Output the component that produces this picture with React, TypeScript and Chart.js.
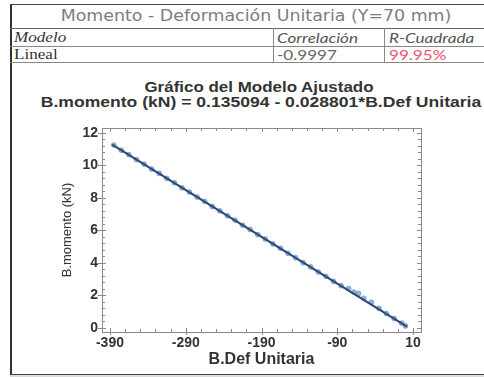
import React, { useEffect, useRef } from "react";
import { Chart, registerables } from "chart.js";

Chart.register(...registerables);

const tableTitle = "Momento - Deformación Unitaria (Y=70 mm)";
const headerCells = ["Modelo", "Correlación", "R-Cuadrada"];
const rowCells = ["Lineal", "-0.9997", "99.95%"];

const chartTitleLines = ["Gráfico del Modelo Ajustado", "B.momento (kN) = 0.135094 - 0.028801*B.Def Unitaria"];
const xAxisTitle = "B.Def Unitaria";
const yAxisTitle = "B.momento (kN)";

const xTickLabels = [-390, -290, -190, -90, 10];
const yTickLabels = [0, 2, 4, 6, 8, 10, 12];

const obsX = [-385, -375, -365, -355, -345, -335, -325, -315, -305, -295, -285, -275, -265, -255, -245, -235, -225, -215, -205, -195, -185, -175, -165, -155, -145, -135, -125, -115, -105, -95, -85, -75, -68, -62, -55, -45, -35, -25, -15, -5, 0];
const obsY = [11.25, 10.93, 10.66, 10.35, 10.08, 9.77, 9.51, 9.2, 8.93, 8.62, 8.35, 8.05, 7.78, 7.47, 7.2, 6.9, 6.63, 6.32, 6.05, 5.74, 5.47, 5.17, 4.9, 4.59, 4.32, 4.01, 3.75, 3.44, 3.17, 2.86, 2.6, 2.42, 2.2, 2.12, 1.82, 1.58, 1.2, 0.88, 0.58, 0.3, 0.12];

const fitX = [-387, 2];
const fitY = [11.28, 0.08];

const X_MIN = -400.5;
const X_MAX = 20.5;
const Y_MIN = -0.25;
const Y_MAX = 12.3;

const frameTicks = {
  id: "frameTicks",
  afterDraw(chart: any) {
    const { ctx, chartArea: a, scales } = chart;
    const xs = scales.x;
    const ys = scales.y;
    ctx.save();
    ctx.strokeStyle = "#8a8a8a";
    ctx.lineWidth = 1;
    ctx.strokeRect(a.left + 0.5, a.top + 0.5, a.right - a.left, a.bottom - a.top);
    ctx.beginPath();
    for (let v = -390; v <= 20; v += 20) {
      const px = Math.round(xs.getPixelForValue(v)) + 0.5;
      const major = (v + 390) % 100 === 0;
      const len = major ? 4 : 3;
      ctx.moveTo(px, a.bottom);
      ctx.lineTo(px, a.bottom - len);
      if (major) {
        ctx.moveTo(px, a.bottom);
        ctx.lineTo(px, a.bottom + 3);
      }
      ctx.moveTo(px, a.top);
      ctx.lineTo(px, a.top + len);
    }
    for (let i = 0; i <= 30; i++) {
      const v = i * 0.4;
      const py = Math.round(ys.getPixelForValue(v)) + 0.5;
      const major = i % 5 === 0;
      const len = major ? 4 : 3;
      ctx.moveTo(a.left, py);
      ctx.lineTo(a.left + len, py);
      if (major) {
        ctx.moveTo(a.left, py);
        ctx.lineTo(a.left - 4, py);
      }
      ctx.moveTo(a.right, py);
      ctx.lineTo(a.right - len, py);
    }
    ctx.stroke();
    ctx.restore();
  },
};

export default function App() {
  const ref = useRef<HTMLCanvasElement>(null);

  useEffect(() => {
    if (!ref.current) return;
    const chart = new Chart(ref.current, {
      type: "scatter",
      data: {
        datasets: [
          {
            label: "obs",
            data: obsX.map((x, i) => ({ x, y: obsY[i] })),
            pointRadius: 2.4,
            pointBackgroundColor: "rgba(130,172,220,0.85)",
            pointBorderColor: "rgba(95,145,205,0.9)",
            pointBorderWidth: 0.8,
            showLine: false,
            order: 2,
          },
          {
            label: "fit",
            data: fitX.map((x, i) => ({ x, y: fitY[i] })),
            showLine: true,
            borderColor: "#2f4a6e",
            borderWidth: 2.2,
            pointRadius: 0,
            order: 1,
          },
        ],
      },
      plugins: [frameTicks],
      options: {
        animation: false,
        responsive: false,
        maintainAspectRatio: false,
        events: [],
        layout: { padding: { left: 0, right: 63, top: 64, bottom: 0 } },
        plugins: {
          legend: { display: false },
          tooltip: { enabled: false },
          title: { display: false },
        },
        scales: {
          x: {
            type: "linear",
            min: X_MIN,
            max: X_MAX,
            afterBuildTicks: (s: any) => {
              s.ticks = xTickLabels.map((v) => ({ value: v }));
            },
            afterFit: (s: any) => {
              s.height = 45;
            },
            grid: { display: false, drawTicks: false },
            border: { display: false },
            ticks: {
              padding: 3,
              maxRotation: 0,
              autoSkip: false,
              color: "#333",
              font: { family: "Liberation Sans, Arial, sans-serif", size: 14, weight: "bold" },
            },
            title: {
              display: true,
              text: xAxisTitle,
              color: "#333",
              padding: { top: 0, bottom: 8 },
              font: { family: "Liberation Sans, Arial, sans-serif", size: 16, weight: "bold" },
            },
          },
          y: {
            type: "linear",
            min: Y_MIN,
            max: Y_MAX,
            afterBuildTicks: (s: any) => {
              s.ticks = yTickLabels.map((v) => ({ value: v }));
            },
            afterFit: (s: any) => {
              s.width = 102;
            },
            grid: { display: false, drawTicks: false },
            border: { display: false },
            ticks: {
              padding: 4,
              autoSkip: false,
              color: "#333",
              font: { family: "Liberation Sans, Arial, sans-serif", size: 14, weight: "bold" },
            },
            title: {
              display: true,
              text: yAxisTitle,
              color: "#333",
              padding: { top: 60, bottom: 0 },
              font: { family: "Liberation Sans Narrow, Liberation Sans, Arial, sans-serif", size: 13 },
            },
          },
        },
      },
    } as any);
    return () => chart.destroy();
  }, []);

  const serif = "'Liberation Serif', 'Times New Roman', serif";
  const sans = "Lato, 'Open Sans', sans-serif";
  const cellBase: React.CSSProperties = {
    position: "absolute",
    fontSize: 14,
    lineHeight: "17px",
    whiteSpace: "nowrap",
    transformOrigin: "left center",
    transform: "scaleX(1.22)",
  };

  return (
    <div style={{ position: "fixed", left: 0, top: 0, width: 484, height: 377, overflow: "hidden", background: "#fff" }}>
      {/* outer frame */}
      <div style={{ position: "absolute", left: 10, top: 4, width: 500, height: 371, border: "1px solid #444", borderLeft: "2px solid #333", boxSizing: "border-box" }} />
      <div style={{ position: "absolute", left: 10, top: 375, width: 480, height: 2, background: "#ddd" }} />
      {/* table title */}
      <div style={{ position: "absolute", left: 256, top: 5, height: 22, transform: "translateX(-50%) scaleX(1.16)", fontFamily: "'DejaVu Sans', Verdana, sans-serif", fontSize: 15, lineHeight: "22px", color: "#7d7d7d", whiteSpace: "nowrap" }}>{tableTitle}</div>
      {/* row lines */}
      <div style={{ position: "absolute", left: 10, top: 28, width: 480, height: 1, background: "#666" }} />
      <div style={{ position: "absolute", left: 10, top: 46, width: 480, height: 1, background: "#888" }} />
      <div style={{ position: "absolute", left: 10, top: 62, width: 480, height: 1, background: "#888" }} />
      {/* column lines */}
      <div style={{ position: "absolute", left: 273, top: 28, width: 1, height: 35, background: "#888" }} />
      <div style={{ position: "absolute", left: 384, top: 28, width: 1, height: 35, background: "#888" }} />
      {/* header cells */}
      <div style={{ ...cellBase, fontFamily: serif, left: 14, top: 29, fontStyle: "italic", color: "#333" }}>{headerCells[0]}</div>
      <div style={{ ...cellBase, fontFamily: sans, left: 277, top: 29, fontStyle: "italic", color: "#555" }}>{headerCells[1]}</div>
      <div style={{ ...cellBase, fontFamily: sans, left: 389, top: 29, fontStyle: "italic", color: "#555" }}>{headerCells[2]}</div>
      {/* data cells */}
      <div style={{ ...cellBase, fontFamily: serif, left: 14, top: 46, color: "#333" }}>{rowCells[0]}</div>
      <div style={{ ...cellBase, fontFamily: sans, left: 277, top: 46, color: "#666" }}>{rowCells[1]}</div>
      <div style={{ ...cellBase, fontFamily: sans, left: 389, top: 46, color: "#e8556a" }}>{rowCells[2]}</div>
      {/* chart titles */}
      <div style={{ position: "absolute", left: 259, top: 79, transform: "translateX(-50%) scaleX(1.13)", fontFamily: "'Liberation Sans', Arial, sans-serif", fontWeight: "bold", fontSize: 15, lineHeight: "16px", color: "#333", whiteSpace: "nowrap" }}>{chartTitleLines[0]}</div>
      <div style={{ position: "absolute", left: 261, top: 94, transform: "translateX(-50%) scaleX(1.17)", fontFamily: "'Liberation Sans', Arial, sans-serif", fontWeight: "bold", fontSize: 15, lineHeight: "16px", color: "#333", whiteSpace: "nowrap" }}>{chartTitleLines[1]}</div>
      <canvas ref={ref} width={484} height={313} style={{ position: "absolute", left: 0, top: 64, width: 484, height: 313 }} />
    </div>
  );
}
